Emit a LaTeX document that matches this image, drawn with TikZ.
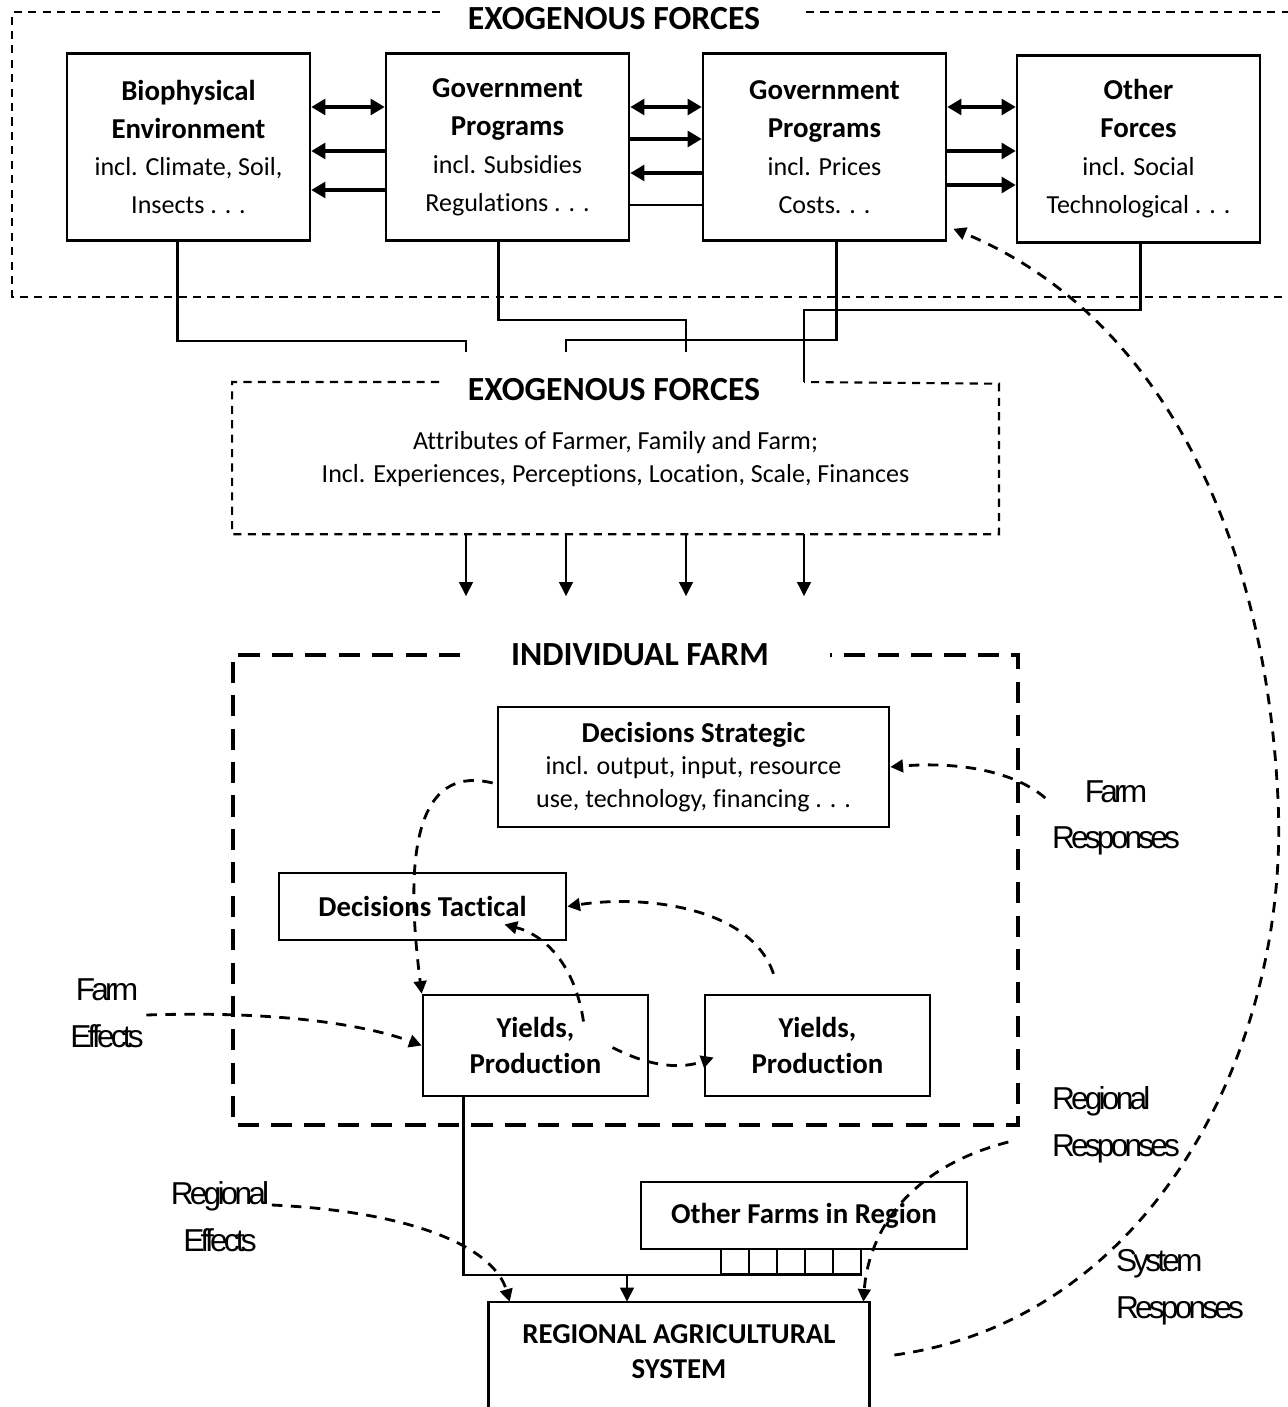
\documentclass[tikz,border=0pt]{standalone}
\usepackage{fontspec}
\setmainfont{Carlito}[Ligatures=CommonOff]
\newfontfamily\labelfont[LetterSpace=-12]{Liberation Sans}
\usetikzlibrary{arrows.meta, positioning}
\newcommand{\hd}[1]{{\bfseries\fontsize{8.2}{11.6}\selectfont #1}}

\begin{document}
\begin{tikzpicture}[
		x=0.01cm, y=-0.01cm,
		force/.style	={ draw, line width=0.7pt,
			minimum width=2.43cm, minimum height=1.87cm,
			align=center, inner sep=0pt,
			font=\fontsize{7.4}{10.8}\selectfont,
		},
		farmbox/.style	={ draw, line width=0.7pt, align=center, inner sep=0pt,
			font=\bfseries\fontsize{8.2}{10}\selectfont,
		},
		cell/.style	={ draw, line width=0.6pt, inner sep=0pt,
			minimum width=0.28cm, minimum height=0.25cm,
		},
		heading/.style	={ inner sep=0pt, font=\bfseries\fontsize{9.6}{11}\selectfont },
		tag/.style	={ align=center, inner sep=0pt, font=\labelfont\fontsize{9}{13.3}\selectfont },
		exoframe/.style	={ line width=0.6pt, dash pattern=on 2.3pt off 1.8pt },
		farmframe/.style	={ line width=0.9pt, dash pattern=on 6pt off 3.5pt },
		link/.style	={ line width=0.8pt },
		flow/.style	={ line width=0.8pt, -{Triangle[length=4pt,width=3.8pt]} },
		push/.style	={ line width=0.9pt, -{Triangle[length=4pt,width=4.5pt]} },
		both/.style	={ line width=0.9pt,
			{Triangle[length=4pt,width=4.5pt]}-{Triangle[length=4pt,width=4.5pt]} },
		feedback/.style	={ line width=0.8pt, dash pattern=on 3pt off 2.4pt,
			-{Triangle[length=3.6pt,width=3.6pt]} },
	]
	\useasboundingbox (0,0) rectangle (1287,1407);

	% exogenous force boxes
	\node [force] (bio)   at (188.5,147)  {\hd{Biophysical}\\\hd{Environment}\\incl. Climate, Soil,\\Insects . . .};
	\node [force] (gov1)  at (507.5,147)  {\hd{Government}\\\hd{Programs}\\incl. Subsidies\\Regulations . . .};
	\node [force] (gov2)  at (824.5,147)  {\hd{Government}\\\hd{Programs}\\incl. Prices\\Costs. . .};
	\node [force] (other) at (1138.5,149) {\hd{Other}\\\hd{Forces}\\incl. Social\\Technological . . .};

	\node [heading] (exotop) at (614,19) {EXOGENOUS FORCES};
	\draw [exoframe] (440,12) -| (12,297) -- (1300,297)
			(806,12) -- (1300,12);

	% arrows between the force boxes
	\foreach \a/\b in {bio/gov1, gov1/gov2, gov2/other}
		\draw [both] (\a.east |- 0,107) -- (\b.west |- 0,107);
	\foreach \y in {151,190}
		\draw [push] (gov1.west |- 0,\y) -- (bio.east |- 0,\y);
	\draw [push] (gov1.east |- 0,139) -- (gov2.west |- 0,139);
	\draw [push] (gov2.west |- 0,173) -- (gov1.east |- 0,173);
	\draw [link] (gov1.east |- 0,205) -- (gov2.west |- 0,205);
	\foreach \y in {151,185}
		\draw [push] (gov2.east |- 0,\y) -- (other.west |- 0,\y);

	% farmer attributes
	\node [minimum width=7.65cm, minimum height=1.49cm, align=center, inner sep=0pt,
		font=\fontsize{7.4}{9.4}\selectfont] (farmer) at (615.5,459)
		{Attributes of Farmer, Family and Farm;\\Incl. Experiences, Perceptions, Location, Scale, Finances};
	\node [heading] (exomid) at (614,390) {EXOGENOUS FORCES};
	\draw [exoframe] (439,382) -| (farmer.south west) -| (farmer.north east) -- (804,382);

	\coordinate (in1) at (466,352);
	\coordinate (in2) at (566,352);
	\coordinate (in3) at (686,352);
	\coordinate (in4) at (804,382);

	% lines down from the force boxes
	\draw [link] (bio.south)++(-11,0) |- (466,341) -- (in1);
	\draw [link] (gov1.south)++(-9,0) |- (686,320) -- (in3);
	\draw [link] (gov2.south)++(12,0) |- (566,340) -- (in2);
	\draw [link] (other.south)++(2,0) |- (804,310) -- (in4);

	\foreach \n in {1,...,4}
		\draw [flow] (in\n |- farmer.south) -- ++(0,62);

	% individual farm
	\node [heading] (farmtitle) at (640,655) {INDIVIDUAL FARM};
	\draw [farmframe] (460,655) -| (233,1125) -| (1018,655) -- (830,655);

	\node [farmbox, minimum width=3.91cm, minimum height=1.2cm,
		font=\fontsize{7.4}{9.2}\selectfont] (strat) at (693.5,767)
		{\hd{Decisions Strategic}\\incl. output, input, resource\\use, technology, financing . . .};
	\node [farmbox, minimum width=2.87cm, minimum height=0.67cm] (tact) at (422.5,906.5) {Decisions Tactical};
	\node [farmbox, minimum width=2.25cm, minimum height=1.01cm] (yield1) at (535.5,1045.5) {Yields,\\Production};
	\node [farmbox, minimum width=2.25cm, minimum height=1.01cm] (yield2) at (817.5,1045.5) {Yields,\\Production};

	% region
	\node [farmbox, minimum width=3.26cm, minimum height=0.67cm] (others) at (804,1215.5) {Other Farms in Region};
	\foreach \i in {0,...,4}
		\node [cell] (cell\i) at ({734.7+28.06*\i},1261.5) {};
	\node [farmbox, draw=none, minimum width=3.78cm, minimum height=0.98cm] (regional) at (679,1352)
		{REGIONAL AGRICULTURAL\\SYSTEM};
	\draw [line width=0.7pt] (regional.south west) ++(0,30) |- (regional.north east) -- ++(0,140);

	\draw [link] (yield1.south)++(-72,0) |- (cell4.south east);
	\draw [flow] (cell0.south -| 627,0) -- (regional.north -| 627,0);

	% labels
	\node [tag] (farmresp) at (1116,818) {Farm\\Responses};
	\node [tag] (farmeff)  at (107,1013) {Farm\\Effects};
	\node [tag, align=left] (regresp) at (1116,1125) {Regional\\Responses};
	\node [tag] (regeff)   at (220,1217) {Regional\\Effects};
	\node [tag, align=left] (sysresp) at (1180,1287) {System\\Responses};

	% feedback
	\draw [feedback] (strat.west)++(-4,16) .. controls (400,760) and (410,900) .. (yield1.north west);
	\draw [feedback] (farmresp.west)++(-6,-20) .. controls (1010,768) and (950,762) .. (strat.east);
	\draw [feedback] (yield2.north)++(-44,-20) .. controls (750,905) and (640,895) .. (tact.east);
	\draw [feedback] (yield1.center)++(48,-24) .. controls (575,965) and (545,935) .. ([shift={(82,18)}]tact.center);
	\draw [feedback] (yield1.center)++(77,2) .. controls (660,1072) and (690,1066) .. ([shift={(10,12)}]yield2.west);
	\draw [feedback] (farmeff.east)++(2,2) .. controls (300,1010) and (380,1030) .. (yield1.west);
	\draw [feedback] (regeff.east)++(2,-12) .. controls (420,1212) and (495,1250) .. ([shift={(21,0)}]regional.north west);
	\draw [feedback] (regresp.west)++(-43,17) .. controls (900,1170) and (868,1240) .. ([shift={(-6,0)}]regional.north east);
	\draw [feedback] (regional.east)++(25,3) .. controls (1150,1320) and (1290,1050) .. (1278,800)
				.. controls (1265,520) and (1150,310) .. ([shift={(6,-13)}]gov2.south east);

\end{tikzpicture}
\end{document}
